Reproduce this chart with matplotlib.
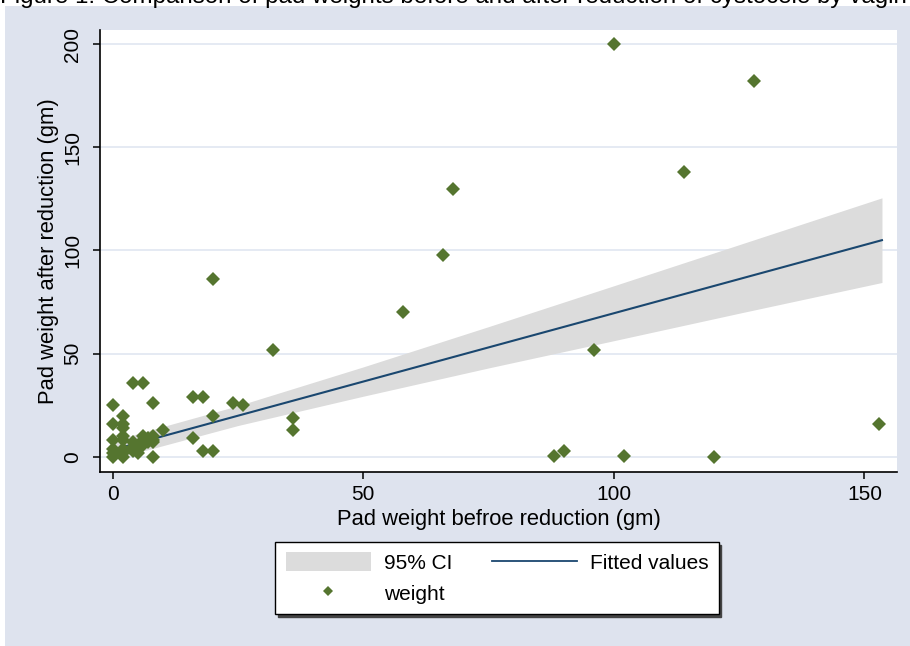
import numpy as np
import matplotlib.pyplot as plt
from matplotlib.patches import Rectangle, Patch
from matplotlib.lines import Line2D

plt.rcParams['font.family'] = ['Liberation Sans', 'DejaVu Sans']

# pad weights (gm)
before = [100, 128, 114, 68, 66, 58, 96, 88, 90, 102, 120, 153,
          20, 32, 16, 18, 24, 26, 20, 36, 36, 16, 18, 20,
          4, 6, 0, 8, 2, 0, 2, 2, 10, 8,
          0, 0, 0, 0, 2, 2, 2, 2, 2, 4, 4, 4, 5, 6, 6, 7, 8, 8, 8, 6, 7, 5]
after = [200, 182, 138, 130, 98, 70, 52, 0.5, 3, 0.5, 0, 16,
         86, 52, 29, 29, 26, 25, 20, 19, 13, 9, 3, 3,
         36, 36, 25, 26, 20, 16, 16, 14, 13, 0,
         8, 4, 0, 2, 10, 8, 4, 0, 2, 5, 3, 7, 5, 8, 6, 9, 10, 8, 7, 10, 7, 2]

# fitted line and 95% CI band
fit_x = [0, 153.5]
fit_y = [3.4, 105.0]
ci_x = [0, 25, 50, 75, 100, 125, 153.5]
ci_lo = [-1.1, 15.2, 29.4, 43.1, 56.3, 69.6, 84.5]
ci_hi = [7.9, 24.8, 43.6, 63.1, 82.9, 102.8, 125.5]

bg = '#dee3ee'
navy = '#1a476f'
green = '#55752f'
band = '#dcdcdc'
fs = 15

fig = plt.figure(figsize=(9.1, 6.46), dpi=100)
fig.patches.append(Rectangle((5/910, 0), 1, 640/646, transform=fig.transFigure,
                             facecolor=bg, edgecolor='none', zorder=-10))
fig.text(0.0, 1 - 3/646,
         'Figure 1: Comparison of pad weights before and after reduction of cystocele by vagin',
         ha='left', va='baseline', fontsize=17.4)

ax = fig.add_axes([100/910, 174/646, 797/910, 442/646])
ax.fill_between(ci_x, ci_lo, ci_hi, color=band, lw=0, zorder=2)
ax.plot(fit_x, fit_y, color=navy, lw=1.5, zorder=3)
ax.plot(before, after, 'D', color=green, ms=7, mew=0, ls='none', zorder=4)

ax.set_xlim(-2.5, 156.5)
ax.set_ylim(-7.3, 206.8)
ax.set_xticks([0, 50, 100, 150])
ax.set_yticks([0, 50, 100, 150, 200])
ax.yaxis.grid(True, color='#e3e8f2', lw=1.3, zorder=1)
ax.set_axisbelow(True)
for s in ['top', 'right']:
    ax.spines[s].set_visible(False)
for s in ['left', 'bottom']:
    ax.spines[s].set_linewidth(1.2)
ax.tick_params(length=5, width=1.1, labelsize=fs, pad=4)
ax.tick_params(axis='y', pad=8)
for lab in ax.get_yticklabels():
    lab.set_rotation(90)
    lab.set_va('center')
ax.set_xlabel('Pad weight befroe reduction (gm)', fontsize=15.8, labelpad=4)
ax.set_ylabel('Pad weight after reduction (gm)', fontsize=15.8, labelpad=3)

handles = [Patch(facecolor=band, edgecolor='none'),
           Line2D([], [], marker='D', color=green, ms=5, mew=0, ls='none'),
           Line2D([], [], color=navy, lw=1.3)]
labels = ['95% CI', 'weight', 'Fitted values']
leg = fig.legend(handles, labels, ncol=2, loc='center',
                 bbox_to_anchor=(497/910, 1 - 578/646), fontsize=fs,
                 frameon=True, fancybox=False, edgecolor='black',
                 facecolor='white', framealpha=1, handlelength=4.1,
                 handleheight=1.0, handletextpad=0.6, columnspacing=1.9,
                 labelspacing=0.5, borderpad=0.5,
                 shadow={'color': '#444444', 'alpha': 1})
leg.get_frame().set_linewidth(1.0)

fig.savefig('out.png', dpi=100, facecolor='white')
